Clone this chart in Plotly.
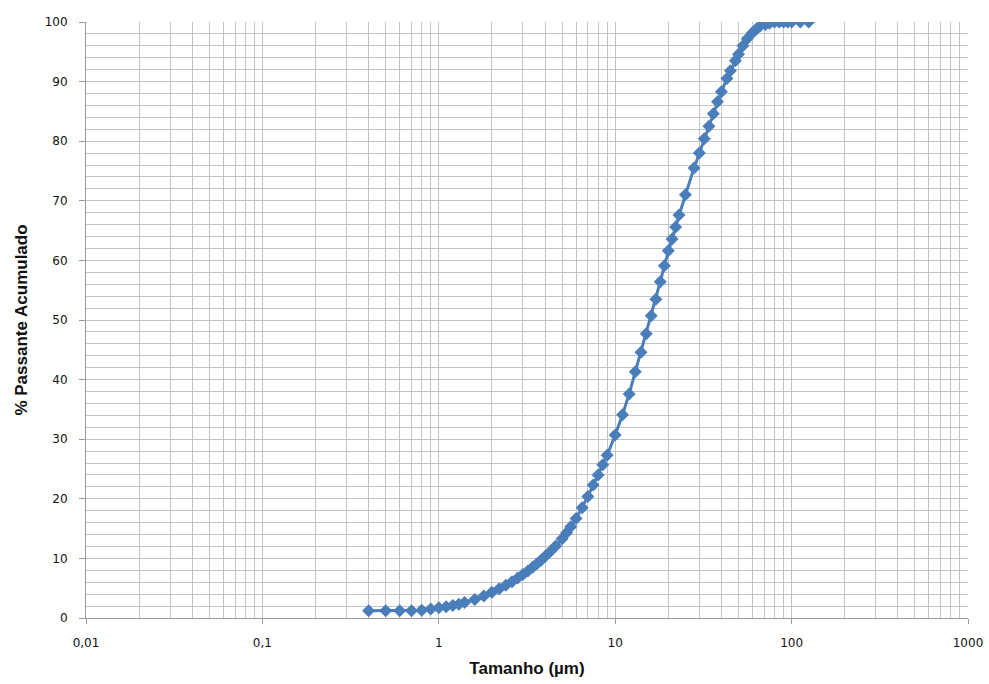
import plotly.graph_objects as go

# Particle size (µm) and cumulative passing (%)
tamanho = [0.4, 0.5, 0.6, 0.7, 0.8, 0.9, 1.0, 1.1, 1.2, 1.3, 1.4, 1.6, 1.8, 2.0,
           2.2, 2.4, 2.6, 2.8, 3.0, 3.2, 3.4, 3.6, 3.8, 4.0, 4.3, 4.6, 5.0, 5.3,
           5.6, 6.0, 6.5, 7.0, 7.5, 8.0, 8.5, 9.0, 10, 11, 12, 13, 14, 15, 16,
           17, 18, 19, 20, 21, 22, 23, 25, 28, 30, 32, 34, 36, 38, 40, 43, 45,
           48, 50, 53, 56, 60, 63, 66, 71, 75, 80, 85, 90, 95, 100, 112, 125]
passante = [1.2, 1.2, 1.2, 1.2, 1.3, 1.5, 1.7, 1.9, 2.1, 2.3, 2.6, 3.1, 3.7, 4.3,
            4.9, 5.5, 6.1, 6.7, 7.3, 7.9, 8.5, 9.1, 9.7, 10.3, 11.2, 12.1, 13.3, 14.3,
            15.3, 16.7, 18.5, 20.4, 22.3, 24.0, 25.7, 27.3, 30.7, 34.1, 37.6, 41.3, 44.6, 47.7, 50.7,
            53.5, 56.4, 59.1, 61.6, 63.6, 65.6, 67.6, 71.0, 75.5, 78.0, 80.4, 82.5, 84.6, 86.6, 88.3, 90.5, 91.8,
            93.5, 94.6, 96.0, 97.2, 98.2, 98.8, 99.3, 99.6, 99.8, 100, 100, 100, 100, 100, 100, 100]

x_tick_vals = [0.01, 0.1, 1, 10, 100, 1000]
x_tick_text = ["0,01", "0,1", "1", "10", "100", "1000"]

grid = "#c4c4c4"
axis_line = "#9a9a9a"

fig = go.Figure()
fig.add_trace(go.Scatter(
    x=tamanho, y=passante, mode="lines+markers",
    line=dict(color="#4a7ebb", width=3),
    marker=dict(symbol="diamond", size=10, color="#4a7ebb"),
    showlegend=False,
))

fig.update_layout(
    width=989, height=684,
    margin=dict(l=86, r=21, t=22, b=66),
    paper_bgcolor="white", plot_bgcolor="white",
    font=dict(family="DejaVu Sans", size=12, color="#111111"),
    xaxis=dict(
        type="log", range=[-2, 3], automargin=False,
        tickvals=x_tick_vals, ticktext=x_tick_text,
        showgrid=True, gridcolor=grid, gridwidth=1,
        minor=dict(dtick="D1", showgrid=True, gridcolor=grid, gridwidth=1, ticks=""),
        showline=True, linecolor=axis_line, linewidth=1,
        ticks="outside", ticklen=5, tickcolor=axis_line, ticklabelstandoff=9,
        zeroline=False,
        title=dict(text="Tamanho (µm)", standoff=12,
                   font=dict(family="Liberation Sans", size=17, color="#111111", weight="bold")),
    ),
    yaxis=dict(
        range=[0, 100], dtick=10, automargin=False,
        showgrid=True, gridcolor=grid, gridwidth=1,
        minor=dict(dtick=2, showgrid=True, gridcolor=grid, gridwidth=1, ticks=""),
        showline=True, linecolor=axis_line, linewidth=1,
        ticks="outside", ticklen=6, tickcolor=axis_line, ticklabelstandoff=9,
        zeroline=False,
        title=dict(text="% Passante Acumulado", standoff=12,
                   font=dict(family="Liberation Sans", size=17, color="#111111", weight="bold")),
    ),
)

fig.write_html("out.html")
